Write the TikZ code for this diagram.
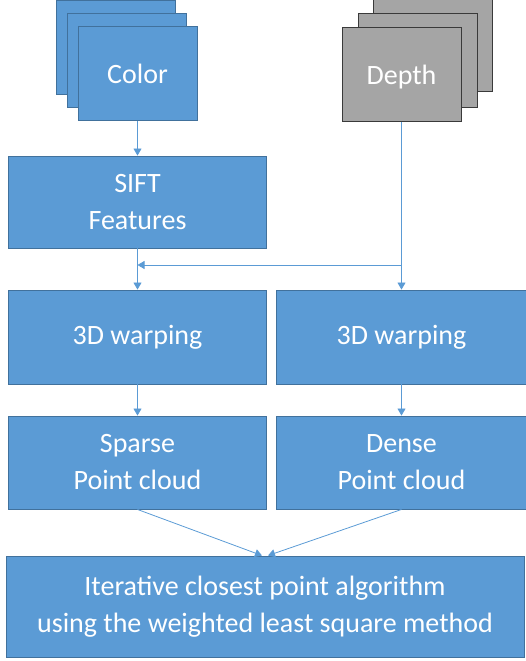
\documentclass[tikz,border=0pt]{standalone}
\usepackage{fontspec}
\setmainfont{Carlito}
\usetikzlibrary{arrows.meta,positioning,calc}
\definecolor{boxblue}{HTML}{5B9BD5}
\definecolor{boxedge}{HTML}{41719C}
\definecolor{imggray}{HTML}{A5A5A5}
\definecolor{grayedge}{HTML}{3A3A3A}

\begin{document}
\begin{tikzpicture}[x=1pt,y=-1pt,
  procbox/.style={draw=boxedge, fill=boxblue, line width=0.9pt, text=white, align=center,
    inner sep=0pt, font=\fontsize{28}{37}\selectfont},
  imgbox/.style={procbox, minimum width=119pt, minimum height=94pt, text depth=0pt},
  grayimg/.style={imgbox, draw=grayedge, fill=imggray},
  flow/.style={draw=boxblue, line width=0.8pt, -{Triangle[length=7pt,width=8pt]}}]
\useasboundingbox (0,0) rectangle (525,661);
% Colour image stack
\node[imgbox] (color3) at (116,47) {};
\node[imgbox] (color2) at (127,60) {};
\node[imgbox] (color) at (137.5,73.5) {Color};
% Depth image stack
\node[grayimg] (depth3) at (432.5,44) {};
\node[grayimg] (depth2) at (417.5,60) {};
\node[grayimg] (depth) at (401.5,74.5) {Depth};
% Processing steps
\node[procbox, minimum width=258pt, minimum height=92pt] (sift) at (137.5,202) {SIFT\\Features};
\node[procbox, minimum width=258pt, minimum height=94pt] (warpL) at (137.5,337) {3D warping};
\node[procbox, minimum width=250pt, minimum height=94pt] (warpR) at (401.5,337) {3D warping};
\node[procbox, minimum width=258pt, minimum height=93pt] (sparse) at (137.5,462.5) {Sparse\\Point cloud};
\node[procbox, minimum width=250pt, minimum height=93pt] (dense) at (401.5,462.5) {Dense\\Point cloud};
\node[procbox, minimum width=518pt, minimum height=101pt] (icp) at (265,606.5)
  {Iterative closest point algorithm\\using the weighted least square method};
% Connectors
\draw[flow] (color) -- (sift);
\draw[flow] (sift) -- (warpL);
\draw[flow] (depth) -- (warpR);
\coordinate (branch) at (401.5,265);
\draw[flow] (branch) -- (branch -| sift.south);
\draw[flow] (warpL) -- (sparse);
\draw[flow] (warpR) -- (dense);
\draw[flow] (sparse.south) -- ([xshift=-3pt]icp.north);
\draw[flow] (dense.south) -- ([xshift=3pt]icp.north);
\end{tikzpicture}
\end{document}
